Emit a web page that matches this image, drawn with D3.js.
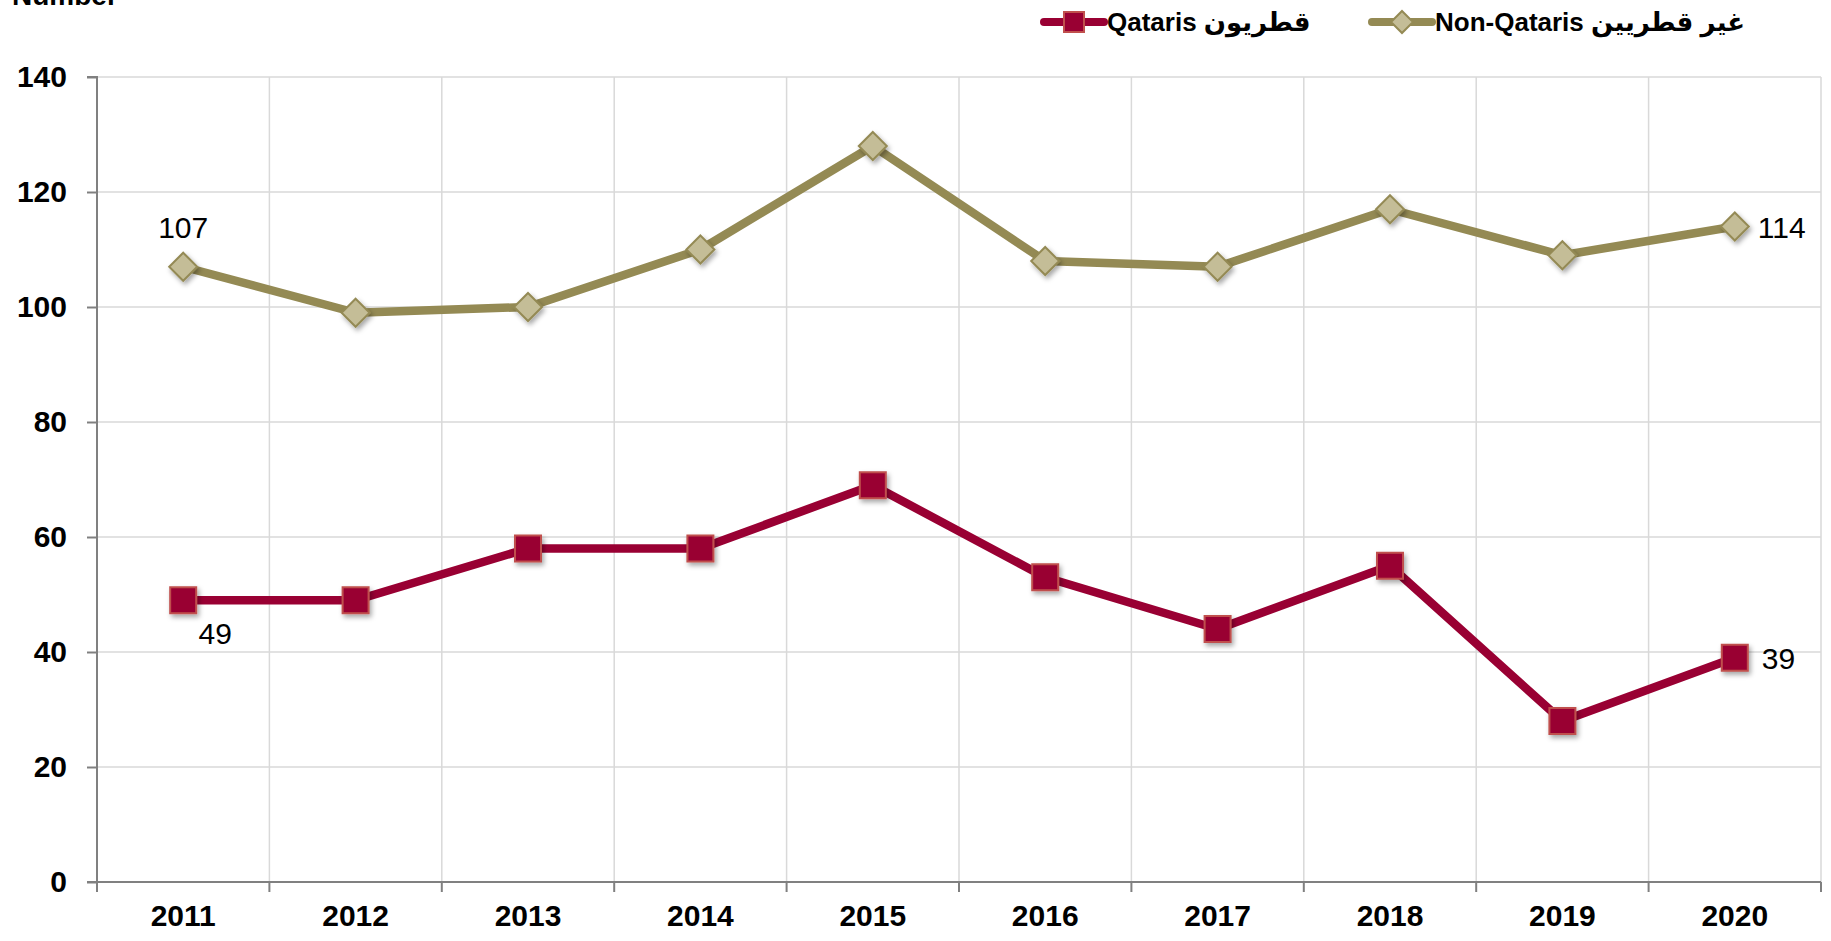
<!DOCTYPE html>
<html><head><meta charset="utf-8">
<script src="https://cdn.jsdelivr.net/npm/d3@7"></script>
<style>
html,body{margin:0;padding:0;background:#fff;}
svg{display:block;font-family:"Liberation Sans","DejaVu Sans",Arial,sans-serif;}
</style></head>
<body>
<svg id="chart" width="1831" height="941"></svg>
<script>
const years = ["2011","2012","2013","2014","2015","2016","2017","2018","2019","2020"];
const qataris = [49,49,58,58,69,53,44,55,28,39];
const nonQataris = [107,99,100,110,128,108,107,117,109,114];
const yTicks = [0,20,40,60,80,100,120,140];
const seriesNames = ["Qataris قطريون","Non-Qataris غير قطريين"];
const axisTitle = "Number";

const svg = d3.select("#chart");
const m = {left:97, right:1821, top:77, bottom:882};

const x = d3.scaleBand().domain(years).range([m.left, m.right]).paddingInner(0).paddingOuter(0);
const y = d3.scaleLinear().domain([0,140]).range([m.bottom, m.top]);
const cx = d => x(d) + x.bandwidth()/2;

const defs = svg.append("defs");
const f = defs.append("filter").attr("id","shadow").attr("x","-50%").attr("y","-50%").attr("width","200%").attr("height","200%");
f.append("feDropShadow").attr("dx",2).attr("dy",3).attr("stdDeviation",2.5).attr("flood-color","#000").attr("flood-opacity",0.35);

// gridlines
svg.append("g").selectAll("line.h").data(yTicks.filter(t=>t>0)).join("line")
  .attr("x1",m.left).attr("x2",m.right).attr("y1",d=>y(d)).attr("y2",d=>y(d))
  .attr("stroke","#d9d9d9").attr("stroke-width",1.5);
svg.append("g").selectAll("line.v").data(years.slice(1).concat(["end"])).join("line")
  .attr("x1",(d,i)=> i<years.length-1 ? x(d) : m.right)
  .attr("x2",(d,i)=> i<years.length-1 ? x(d) : m.right)
  .attr("y1",m.top).attr("y2",m.bottom)
  .attr("stroke","#d9d9d9").attr("stroke-width",1.5);

// y axis
const yAxis = d3.axisLeft(y).tickValues(yTicks).tickSize(10).tickPadding(20);
const gy = svg.append("g").attr("transform",`translate(${m.left},0)`).call(yAxis);
gy.select(".domain").attr("stroke","#808080").attr("stroke-width",2).attr("d",`M-10,${m.top}H0V${m.bottom}H-10`);
gy.selectAll(".tick line").attr("stroke","#808080").attr("stroke-width",2);
gy.selectAll(".tick text").attr("fill","#000").style("font-size","30px").style("font-weight","bold")
  .style("font-family","'Liberation Sans',Arial,sans-serif");

// x axis
const xAxis = d3.axisBottom(x).tickSize(0).tickPadding(23);
const gx = svg.append("g").attr("transform",`translate(0,${m.bottom})`).call(xAxis);
gx.select(".domain").attr("stroke","#808080").attr("stroke-width",2).attr("d",`M${m.left},0H${m.right}`);
gx.selectAll(".tick text").attr("fill","#000").style("font-size","30px").style("font-weight","bold")
  .style("font-family","'Liberation Sans',Arial,sans-serif");
const bounds = years.map(d=>x(d)).concat([m.right]);
gx.append("g").selectAll("line").data(bounds).join("line")
  .attr("x1",d=>d).attr("x2",d=>d).attr("y1",0).attr("y2",10)
  .attr("stroke","#808080").attr("stroke-width",2);

// axis title
svg.append("text").attr("x",12).attr("y",5).text(axisTitle)
  .style("font-size","28px").style("font-weight","bold").attr("fill","#000");

const line = d3.line().x((d,i)=>cx(years[i])).y(d=>y(d));

// Non-Qataris
const colN = "#948a54", fillN = "#c4bd97";
svg.append("path").datum(nonQataris).attr("d",line).attr("fill","none")
  .attr("stroke",colN).attr("stroke-width",8.5).attr("stroke-linejoin","round");
const diamond = s => `M0,${-s}L${s},0L0,${s}L${-s},0Z`;
svg.append("g").selectAll("path").data(nonQataris).join("path")
  .attr("transform",(d,i)=>`translate(${cx(years[i])},${y(d)})`)
  .attr("d",diamond(14)).attr("fill",fillN).attr("stroke",colN).attr("stroke-width",2)
  .attr("filter","url(#shadow)");

// Qataris
const colQ = "#990033", strokeQ = "#c0504d";
svg.append("path").datum(qataris).attr("d",line).attr("fill","none")
  .attr("stroke",colQ).attr("stroke-width",8.5).attr("stroke-linejoin","round");
svg.append("g").selectAll("rect").data(qataris).join("rect")
  .attr("x",(d,i)=>cx(years[i])-13).attr("y",d=>y(d)-13)
  .attr("width",26).attr("height",26).attr("fill",colQ).attr("stroke",strokeQ).attr("stroke-width",2)
  .attr("filter","url(#shadow)");

// data labels
const lab = (t,xx,yy,anchor) => svg.append("text").attr("x",xx).attr("y",yy).attr("text-anchor",anchor)
  .text(t).style("font-size","30px").attr("fill","#000");
const last = years.length-1;
lab(nonQataris[0], cx(years[0]), y(nonQataris[0])-29, "middle");
lab(nonQataris[last], cx(years[last])+23, y(nonQataris[last])+11, "start");
lab(qataris[0], cx(years[0])+32, y(qataris[0])+44, "middle");
lab(qataris[last], cx(years[last])+27, y(qataris[last])+11, "start");

// legend
const lg = svg.append("g");
const ly = 22;
lg.append("line").attr("x1",1044).attr("x2",1104).attr("y1",ly).attr("y2",ly)
  .attr("stroke",colQ).attr("stroke-width",8).attr("stroke-linecap","round");
lg.append("rect").attr("x",1064).attr("y",ly-10).attr("width",20).attr("height",20)
  .attr("fill",colQ).attr("stroke",strokeQ).attr("stroke-width",2);
lg.append("text").attr("x",1107).attr("y",ly+9).text(seriesNames[0])
  .style("font-size","26px").style("font-weight","bold").attr("fill","#000");
lg.append("line").attr("x1",1372).attr("x2",1432).attr("y1",ly).attr("y2",ly)
  .attr("stroke",colN).attr("stroke-width",8).attr("stroke-linecap","round");
lg.append("path").attr("transform",`translate(1402,${ly})`).attr("d",diamond(11))
  .attr("fill",fillN).attr("stroke",colN).attr("stroke-width",2);
lg.append("text").attr("x",1435).attr("y",ly+9).text(seriesNames[1])
  .style("font-size","26px").style("font-weight","bold").attr("fill","#000");
</script>
</body></html>
